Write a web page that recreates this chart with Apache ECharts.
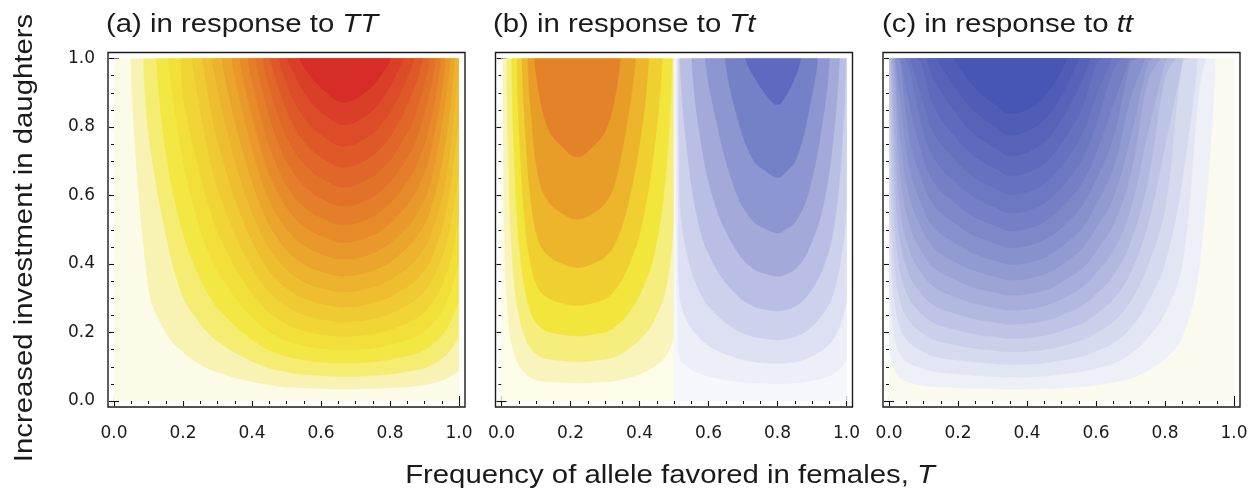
<!DOCTYPE html>
<html>
<head>
<meta charset="utf-8">
<script src="https://cdn.jsdelivr.net/npm/echarts@6/dist/echarts.min.js"></script>
<style>
  html, body { margin: 0; background: #fff; }
  #main { width: 1256px; height: 504px; }
</style>
</head>
<body>
<div id="main"></div>
<script>
// Contour bands. Each lobe has a list of x positions
// (left / right of its peak) shared by all its contours; every contour
// level stores where it meets the top edge and its y at the tail of those x lists.

// ---- (a) in response to TT ----
const aXLeft  = [0.10, 0.15, 0.20, 0.25, 0.283, 0.30, 0.364, 0.429, 0.474, 0.518, 0.561, 0.611, 0.665];
const aXRight = [1, 1, 1, 1, 1, 0.9925, 0.962, 0.917, 0.874, 0.823, 0.78, 0.733, 0.665];
const aTop = [[0.050,1],[0.086,1],[0.123,1],[0.159,1],[0.195,1],[0.227,1],[0.257,1],[0.285,0.999],[0.314,0.986],
  [0.342,0.974],[0.366,0.960],[0.389,0.947],[0.411,0.931],[0.432,0.914],[0.454,0.894],[0.478,0.869],[0.503,0.838],[0.539,0.802]];
const aY = [
  [0.334,0.200,0.143,0.107,0.090,0.084,0.065,0.051,0.044,0.040,0.038,0.036,0.035],
  [0.786,0.490,0.305,0.226,0.189,0.175,0.134,0.104,0.091,0.082,0.077,0.074,0.072],
  [0.731,0.491,0.357,0.296,0.273,0.208,0.160,0.139,0.126,0.118,0.113,0.110],
  [0.706,0.503,0.413,0.380,0.286,0.219,0.189,0.171,0.160,0.153,0.149],
  [0.890,0.666,0.542,0.496,0.369,0.280,0.241,0.217,0.203,0.194,0.189],
  [0.850,0.683,0.622,0.458,0.345,0.296,0.266,0.249,0.237,0.231],
  [0.840,0.762,0.554,0.413,0.353,0.317,0.296,0.282,0.274],
  [0.915,0.656,0.485,0.413,0.369,0.344,0.328,0.319],
  [0.767,0.561,0.476,0.424,0.395,0.376,0.365],
  [0.886,0.641,0.542,0.482,0.448,0.426,0.413],
  [0.726,0.611,0.542,0.503,0.478,0.463],
  [0.817,0.683,0.604,0.560,0.531,0.515],
  [0.913,0.760,0.670,0.619,0.587,0.569],
  [0.840,0.738,0.682,0.646,0.625],
  [0.925,0.810,0.747,0.706,0.683],
  [0.886,0.815,0.770,0.744],
  [0.965,0.886,0.836,0.807],
  [0.961,0.905,0.873]
];

// ---- (b) in response to Tt : orange lobe (x < 0.5) and blue lobe (x > 0.5) ----
const bOXLeft  = [0.011, 0.022, 0.025, 0.037, 0.052, 0.069, 0.087, 0.109, 0.136, 0.173, 0.22];
const bOXRight = [0.5, 0.5, 0.5, 0.480, 0.447, 0.406, 0.366, 0.331, 0.304, 0.267, 0.22];
const bOTop = [[0.005,0.5],[0.015,0.5],[0.030,0.494],[0.045,0.465],[0.060,0.426],[0.077,0.388],[0.097,0.344]];
const bOY = [
  [0.390,0.218,0.192,0.138,0.104,0.081,0.068,0.060,0.056,0.055,0.053],
  [0.647,0.540,0.349,0.245,0.185,0.151,0.131,0.123,0.118,0.115],
  [0.709,0.450,0.322,0.255,0.218,0.203,0.195,0.190],
  [0.773,0.512,0.390,0.326,0.301,0.287,0.279],
  [0.792,0.572,0.464,0.424,0.403,0.390],
  [0.828,0.647,0.583,0.550,0.531],
  [0.899,0.795,0.745,0.713]
];
const bBXLeft  = [0.506, 0.512, 0.517, 0.535, 0.573, 0.618, 0.677, 0.728, 0.775, 0.80];
const bBXRight = [1, 1, 1, 0.988, 0.964, 0.934, 0.892, 0.854, 0.82, 0.80];
const bBTop = [[0.505,1],[0.510,1],[0.514,1],[0.518,0.998],[0.552,0.979],[0.591,0.950],[0.649,0.916],[0.707,0.867]];
const bBY = [
  [0.593,0.205,0.124,0.103,0.081,0.068,0.058,0.053,0.051,0.051],
  [0.593,0.305,0.242,0.185,0.152,0.128,0.115,0.111,0.110],
  [0.593,0.444,0.322,0.258,0.211,0.189,0.181,0.179],
  [0.761,0.512,0.395,0.315,0.278,0.266,0.263],
  [0.791,0.579,0.447,0.388,0.369,0.364],
  [0.840,0.618,0.527,0.499,0.490],
  [0.854,0.707,0.665,0.652],
  [0.954,0.884,0.865]
];

// ---- (c) in response to tt ----
const cXLeft  = [0, 0, 0.007, 0.017, 0.033, 0.06, 0.095, 0.131, 0.19, 0.249, 0.314, 0.35];
const cXRight = [0.90, 0.85, 0.80, 0.75, 0.70, 0.65, 0.60, 0.56, 0.514, 0.47, 0.42, 0.35];
const cTop = [[0,0.945],[0,0.918],[0,0.893],[0,0.872],[0,0.852],[0.003,0.830],[0.006,0.807],[0.0095,0.785],[0.014,0.763],
  [0.019,0.741],[0.027,0.718],[0.035,0.695],[0.046,0.671],[0.063,0.645],[0.083,0.615],[0.110,0.583],[0.140,0.549],[0.190,0.514]];
const cY = [
  [0.398,0.187,0.123,0.090,0.067,0.054,0.047,0.042,0.039,0.037,0.035,0.034],
  [0.919,0.402,0.258,0.185,0.138,0.110,0.096,0.086,0.080,0.075,0.071,0.070],
  [0.647,0.404,0.288,0.213,0.170,0.146,0.131,0.121,0.114,0.109,0.107],
  [0.990,0.566,0.397,0.292,0.232,0.200,0.179,0.165,0.154,0.147,0.144],
  [0.990,0.746,0.516,0.376,0.298,0.255,0.228,0.210,0.196,0.187,0.183],
  [0.946,0.644,0.466,0.367,0.313,0.279,0.257,0.240,0.229,0.224],
  [0.990,0.784,0.561,0.439,0.374,0.333,0.305,0.285,0.271,0.265],
  [0.935,0.663,0.515,0.438,0.388,0.356,0.331,0.316,0.309],
  [0.990,0.771,0.596,0.505,0.447,0.408,0.380,0.362,0.353],
  [0.887,0.681,0.575,0.507,0.463,0.430,0.409,0.399],
  [0.990,0.771,0.648,0.571,0.520,0.483,0.459,0.448],
  [0.867,0.726,0.638,0.580,0.537,0.510,0.497],
  [0.969,0.808,0.708,0.642,0.594,0.563,0.549],
  [0.893,0.782,0.707,0.653,0.618,0.603],
  [0.985,0.859,0.775,0.714,0.676,0.659],
  [0.940,0.847,0.779,0.736,0.717],
  [0.921,0.846,0.799,0.777],
  [0.916,0.862,0.840]
];

// band colours, lowest band first
const aColors = ['#fcfbe8','#f8f3b2','#f5ed72','#f3e744','#f2df3a','#f1d536','#f0ca33','#eebe30','#edb22e','#eba52c',
  '#e9982b','#e78b2a','#e57e2a','#e37229','#e16629','#df5928','#dd4c28','#da3e28','#d72d27'];
const bOrange = ['#fdfce8','#f8f4bc','#f5ee7c','#f2e63c','#f0d030','#ecb52b','#e89d28','#e4822a'];
const bBlue = ['#f6f7fc','#eceef8','#dde0f2','#cdd1ec','#b9bfe4','#a3aada','#8d96d0','#7581c7','#5e6abf'];
const cColors = ['#fafaee','#eef0f8','#e2e5f4','#d6daef','#cacfea','#bec4e5','#b2b9e0','#a7aedb','#9ca4d6','#919ad1',
  '#8791cd','#7e88c9','#757fc5','#6d78c2','#6671bf','#5f6abc','#5763b9','#4f5db6','#4756b3'];

const FONT = '"Liberation Sans", Arial, Helvetica, sans-serif';
const TICK_FONT = '"DejaVu Sans", "Liberation Sans", sans-serif';
const lefts = [114, 501.5, 889];
const TOP = 58.5, W = 345, H = 342.5, PAD = 6;

function contour(xl, xr, top, ys) {
  const off = xl.length - ys.length;
  const pts = [[top[0], 1]];
  for (let j = 0; j < ys.length; j++) pts.push([xl[off + j], ys[j]]);
  for (let j = ys.length - 2; j >= 0; j--) pts.push([xr[off + j], ys[j]]);
  pts.push([top[1], 1]);
  return pts;
}

const panels = [
  [{ span: [0, 1], xl: aXLeft, xr: aXRight, top: aTop, y: aY, colors: aColors }],
  [{ span: [0, 0.5], xl: bOXLeft, xr: bOXRight, top: bOTop, y: bOY, colors: bOrange },
   { span: [0.5, 1], xl: bBXLeft, xr: bBXRight, top: bBTop, y: bBY, colors: bBlue }],
  [{ span: [0, 1], xl: cXLeft, xr: cXRight, top: cTop, y: cY, colors: cColors }]
];

const series = panels.map(function (parts, i) {
  const shapes = [];
  parts.forEach(function (p) {
    const x0 = p.span[0], x1 = p.span[1];
    shapes.push({ pts: [[x0, 0], [x1, 0], [x1, 1], [x0, 1]], color: p.colors[0], smooth: 0 });
    p.y.forEach(function (ys, k) {
      shapes.push({ pts: contour(p.xl, p.xr, p.top[k], ys), color: p.colors[k + 1], smooth: 0.4 });
    });
  });
  return {
    type: 'custom',
    coordinateSystem: 'cartesian2d',
    xAxisIndex: i,
    yAxisIndex: i,
    clip: true,
    silent: true,
    data: shapes.map(function () { return [0.5, 0.5]; }),
    renderItem: function (params, api) {
      const s = shapes[params.dataIndex];
      const pts = s.pts.map(function (p) { return api.coord(p); });
      return {
        type: 'polygon',
        shape: { points: pts, smooth: s.smooth, smoothConstraint: [pts[0], pts[0]] },
        style: { fill: s.color, stroke: s.color, lineWidth: 0.6 }
      };
    }
  };
});

const tick = { inside: true, length: 5, lineStyle: { color: '#111', width: 1.1 } };
const minor = { show: true, splitNumber: 4, length: 3, lineStyle: { color: '#111', width: 1 } };
const label = { fontSize: 17, color: '#1a1a1a', fontFamily: TICK_FONT, formatter: function (v) { return v.toFixed(1); } };

const grids = [], xAxes = [], yAxes = [];
lefts.forEach(function (l) {
  grids.push({ left: l, top: TOP, width: W, height: H });
});
lefts.forEach(function (l) {
  grids.push({ left: l - PAD, top: TOP - PAD, width: W + 2 * PAD, height: H + 2 * PAD,
    show: true, borderColor: '#1a1a1a', borderWidth: 1.4, backgroundColor: 'transparent' });
});
[0, 1, 2].forEach(function (i) {
  xAxes.push({ gridIndex: i, type: 'value', min: 0, max: 1, interval: 0.2, position: 'bottom', offset: PAD,
    axisLine: { show: false }, splitLine: { show: false }, axisTick: tick, minorTick: minor,
    axisLabel: Object.assign({ margin: 18 }, label) });
});
[0, 1, 2].forEach(function (i) {
  xAxes.push({ gridIndex: i, type: 'value', min: 0, max: 1, interval: 0.2, position: 'top', offset: PAD,
    axisLine: { show: false }, splitLine: { show: false }, axisTick: tick, minorTick: minor,
    axisLabel: { show: false } });
});
[0, 1, 2].forEach(function (i) {
  yAxes.push({ gridIndex: i, type: 'value', min: 0, max: 1, interval: 0.2, position: 'left', offset: PAD,
    axisLine: { show: false }, splitLine: { show: false }, axisTick: tick, minorTick: minor,
    axisLabel: Object.assign({ show: i === 0, margin: 13 }, label) });
});
[0, 1, 2].forEach(function (i) {
  yAxes.push({ gridIndex: i, type: 'value', min: 0, max: 1, interval: 0.2, position: 'right', offset: PAD,
    axisLine: { show: false }, splitLine: { show: false }, axisTick: tick, minorTick: minor,
    axisLabel: { show: false } });
});
[3, 4, 5].forEach(function (i) {
  xAxes.push({ gridIndex: i, type: 'value', min: 0, max: 1, show: false });
  yAxes.push({ gridIndex: i, type: 'value', min: 0, max: 1, show: false });
});

// the source figure's lettering is slightly stretched sideways
const italic = { i: { fontStyle: 'italic', fontSize: 25.5, fontFamily: FONT, fill: '#1a1a1a' } };
function txt(text, x, y, align, rotation) {
  return { type: 'text', x: x, y: y, rotation: rotation || 0, scaleX: 1.15, silent: true,
    style: { text: text, fontSize: 25.5, fontFamily: FONT, fill: '#1a1a1a',
      align: align, verticalAlign: 'middle', rich: italic } };
}

const myChart = echarts.init(document.getElementById('main'), null, { width: 1256, height: 504, renderer: 'canvas' });

const option = {
  animation: false,
  backgroundColor: '#fff',
  grid: grids,
  xAxis: xAxes,
  yAxis: yAxes,
  series: series,
  graphic: [
    txt('(a) in response to {i|TT}', 106, 24.5, 'left'),
    txt('(b) in response to {i|Tt}', 493, 24.5, 'left'),
    txt('(c) in response to {i|tt}', 882, 24.5, 'left'),
    txt('Frequency of allele favored in females, {i|T}', 670, 476, 'center'),
    txt('Increased investment in daughters', 25, 238, 'center', Math.PI / 2)
  ]
};

myChart.setOption(option);
</script>
</body>
</html>
